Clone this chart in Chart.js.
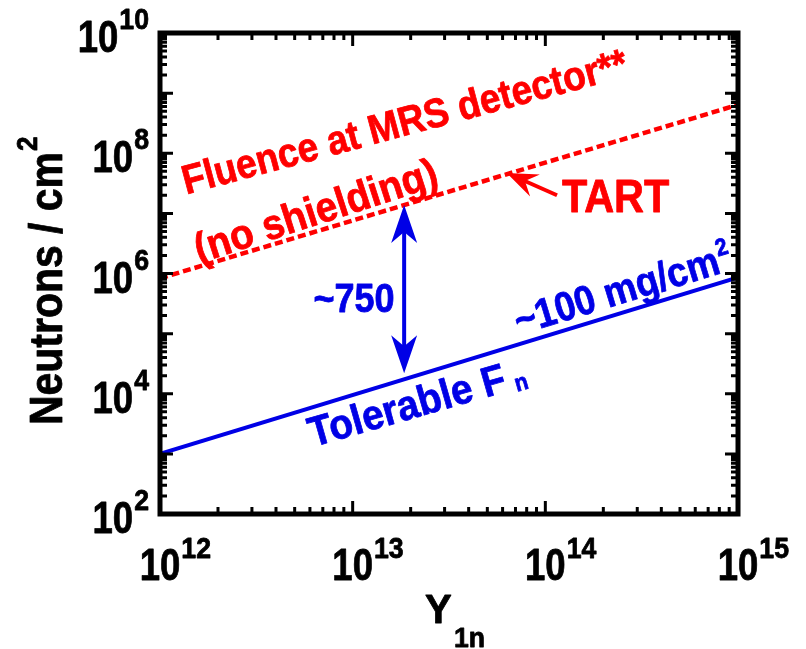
<!DOCTYPE html>
<html>
<head>
<meta charset="utf-8">
<script src="https://cdn.jsdelivr.net/npm/chart.js@4.4.1/dist/chart.umd.min.js"></script>
<style>
  html, body { margin: 0; padding: 0; background: #fff; }
  canvas { display: block; }
</style>
</head>
<body>
<canvas id="myChart" width="806" height="649"></canvas>
<script>
// data
const yieldY1n = [1e12, 1e15];
const fluenceNoShield = [8.3e5, 6.4e8];   // red dashed, TART
const tolerableFn = [1.0e3, 8.6e5];       // blue, ~100 mg/cm2
const xDecades = [12, 13, 14, 15];
const yLabelDecades = [2, 4, 6, 8, 10];
const ratioArrowX = 1.85e13;
const ratioArrowY = [1.38e7, 2.2e4];      // top tip, bottom tip
const tartArrowTail = [1.15e14, 2.0e7];
const tartArrowTip = [6.3e13, 4.7e7];

const RED = '#ff0000';
const BLUE = '#0000e6';
const FONT = '"Liberation Sans", Arial, Helvetica, sans-serif';

function font(size) { return 'bold ' + size + 'px ' + FONT; }

// draws a run of text pieces (base, sub/superscript) with a horizontal squeeze
function runText(ctx, parts, x, y, rot, color, align) {
    ctx.save();
    ctx.translate(x, y);
    ctx.rotate(rot * Math.PI / 180);
    ctx.fillStyle = color;
    ctx.strokeStyle = color;
    ctx.lineWidth = 0.8;
    ctx.lineJoin = 'round';
    ctx.textBaseline = 'alphabetic';
    ctx.textAlign = 'left';
    const widths = parts.map(p => {
        ctx.font = font(p.size);
        return ctx.measureText(p.t).width * (p.sx || 1) + (p.gap || 0);
    });
    const total = widths.reduce((a, b) => a + b, 0);
    let cx = align === 'center' ? -total / 2 : (align === 'right' ? -total : 0);
    parts.forEach((p, i) => {
        ctx.save();
        ctx.font = font(p.size);
        ctx.translate(cx + (p.gap || 0), p.dy || 0);
        ctx.scale(p.sx || 1, 1);
        ctx.fillText(p.t, 0, 0);
        ctx.strokeText(p.t, 0, 0);
        ctx.restore();
        cx += widths[i];
    });
    ctx.restore();
}

function arrowHead(ctx, tx, ty, ang, len, hw, back) {
    const c = Math.cos(ang), s = Math.sin(ang);
    const P = (u, v) => [tx + u * c - v * s, ty + u * s + v * c];
    ctx.beginPath();
    ctx.moveTo(...P(0, 0));
    ctx.lineTo(...P(-len, hw));
    ctx.lineTo(...P(-back, 0));
    ctx.lineTo(...P(-len, -hw));
    ctx.closePath();
    ctx.fill();
}

const framePlugin = {
    id: 'framePlugin',
    afterDatasetsDraw(chart) {
        const { ctx, chartArea: a, scales: { x, y } } = chart;

        // ~750 double arrow
        const ax = x.getPixelForValue(ratioArrowX);
        const ay0 = y.getPixelForValue(ratioArrowY[0]);
        const ay1 = y.getPixelForValue(ratioArrowY[1]);
        ctx.save();
        ctx.strokeStyle = BLUE;
        ctx.fillStyle = BLUE;
        ctx.lineWidth = 4;
        ctx.beginPath();
        ctx.moveTo(ax, ay0 + 25);
        ctx.lineTo(ax, ay1 - 25);
        ctx.stroke();
        arrowHead(ctx, ax, ay0, -Math.PI / 2, 38, 13, 27);
        arrowHead(ctx, ax, ay1, Math.PI / 2, 38, 13, 27);
        ctx.restore();

        // TART arrow
        const tx0 = x.getPixelForValue(tartArrowTail[0]);
        const ty0 = y.getPixelForValue(tartArrowTail[1]);
        const tx1 = x.getPixelForValue(tartArrowTip[0]);
        const ty1 = y.getPixelForValue(tartArrowTip[1]);
        const ang = Math.atan2(ty1 - ty0, tx1 - tx0);
        ctx.save();
        ctx.strokeStyle = RED;
        ctx.fillStyle = RED;
        ctx.lineWidth = 4;
        ctx.beginPath();
        ctx.moveTo(tx0, ty0);
        ctx.lineTo(tx1 - 18 * Math.cos(ang), ty1 - 18 * Math.sin(ang));
        ctx.stroke();
        arrowHead(ctx, tx1, ty1, ang, 31, 12, 20);
        ctx.restore();

        // frame
        ctx.save();
        ctx.strokeStyle = '#000';
        ctx.lineWidth = 5;
        ctx.strokeRect(a.left, a.top, a.right - a.left, a.bottom - a.top);

        // inward ticks on all four sides
        ctx.lineWidth = 3;
        ctx.beginPath();
        for (let d = xDecades[0]; d <= xDecades[xDecades.length - 1]; d++) {
            for (let m = 1; m <= 9; m++) {
                const v = m * Math.pow(10, d);
                if (v > 1e15) break;
                const px = x.getPixelForValue(v);
                const len = m === 1 ? 13 : 7;
                ctx.moveTo(px, a.bottom); ctx.lineTo(px, a.bottom - len);
                ctx.moveTo(px, a.top); ctx.lineTo(px, a.top + len);
            }
        }
        for (let d = 2; d <= 10; d++) {
            for (let m = 1; m <= 9; m++) {
                const v = m * Math.pow(10, d);
                if (v > 1e10) break;
                const py = y.getPixelForValue(v);
                const len = m === 1 ? 13 : 7;
                ctx.moveTo(a.left, py); ctx.lineTo(a.left + len, py);
                ctx.moveTo(a.right, py); ctx.lineTo(a.right - len, py);
            }
        }
        ctx.stroke();
        ctx.restore();

        // tick labels
        xDecades.forEach(d => {
            const px = x.getPixelForValue(Math.pow(10, d));
            ctx.font = font(44);
            const w = ctx.measureText('10').width * 0.83;
            runText(ctx, [{ t: '10', size: 44, sx: 0.83 }], px - w / 2, 580, 0, '#000', 'left');
            runText(ctx, [{ t: String(d), size: 29, sx: 0.92 }], px + w / 2 + 1, 558, 0, '#000', 'left');
        });
        yLabelDecades.forEach(d => {
            const py = y.getPixelForValue(Math.pow(10, d));
            runText(ctx, [
                { t: '10', size: 44, sx: 0.83 },
                { t: String(d), size: 29, sx: 0.92, dy: -23, gap: 1 }
            ], 149, py + 19, 0, '#000', 'right');
        });

        // axis titles
        runText(ctx, [
            { t: 'Neutrons / cm', size: 46, sx: 0.89 },
            { t: '2', size: 29, sx: 0.9, dy: -25, gap: 1 }
        ], 62, 425, -90, '#000', 'left');
        runText(ctx, [{ t: 'Y', size: 40, sx: 1 }], 425, 623, 0, '#000', 'left');
        runText(ctx, [{ t: '1n', size: 28, sx: 0.95 }], 454, 647, 0, '#000', 'left');

        // annotations
        runText(ctx, [{ t: 'Fluence at MRS detector**', size: 41, sx: 0.9 }], 408, 135, -15, RED, 'center');
        runText(ctx, [{ t: '(no shielding)', size: 42, sx: 0.92 }], 320, 224, -18, RED, 'center');
        runText(ctx, [{ t: 'TART', size: 46, sx: 0.9 }], 562, 212, 0, RED, 'left');
        runText(ctx, [{ t: '~750', size: 40, sx: 0.9 }], 354, 312, 0, BLUE, 'center');
        runText(ctx, [
            { t: '~100 mg/cm', size: 41, sx: 0.9 },
            { t: '2', size: 24, sx: 0.9, dy: -17, gap: 1 }
        ], 519, 335, -17, BLUE, 'left');
        runText(ctx, [
            { t: 'Tolerable F', size: 42, sx: 0.92 },
            { t: 'n', size: 24, sx: 0.9, dy: 3, gap: 8 }
        ], 313, 447, -16, BLUE, 'left');
    }
};

const ctx = document.getElementById('myChart').getContext('2d');
const chart = new Chart(ctx, {
    type: 'line',
    data: {
        datasets: [
            {
                label: 'Fluence at MRS detector (TART)',
                data: yieldY1n.map((v, i) => ({ x: v, y: fluenceNoShield[i] })),
                borderColor: RED,
                borderWidth: 4.5,
                borderDash: [8, 4],
                pointRadius: 0,
                fill: false,
                tension: 0
            },
            {
                label: 'Tolerable Fn',
                data: yieldY1n.map((v, i) => ({ x: v, y: tolerableFn[i] })),
                borderColor: BLUE,
                borderWidth: 4,
                pointRadius: 0,
                fill: false,
                tension: 0
            }
        ]
    },
    options: {
        responsive: false,
        animation: false,
        devicePixelRatio: 1,
        layout: { padding: { left: 160, top: 33, right: 68, bottom: 135 } },
        plugins: {
            legend: { display: false },
            tooltip: { enabled: false }
        },
        scales: {
            x: { type: 'logarithmic', min: 1e12, max: 1e15, display: false },
            y: { type: 'logarithmic', min: 1e2, max: 1e10, display: false }
        }
    },
    plugins: [framePlugin]
});
</script>
</body>
</html>
